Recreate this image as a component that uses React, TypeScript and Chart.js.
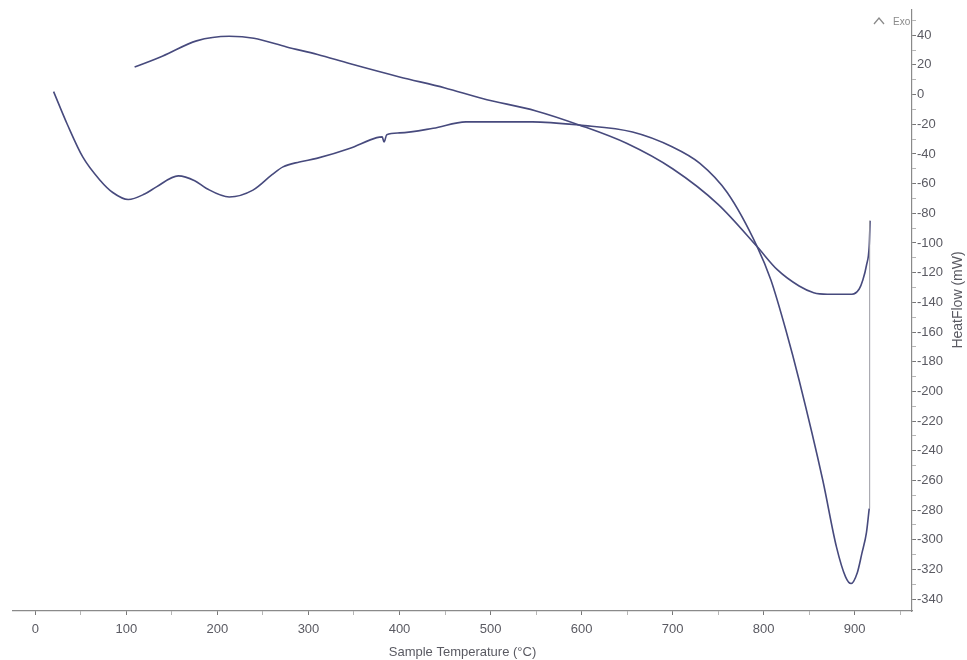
import React, { useEffect, useRef } from 'react';
import Chart from 'chart.js/auto';

// Heating run (°C, mW)
const heatingT = [20, 35, 52, 71, 85, 102, 120, 133, 157, 175, 188, 213, 239, 260, 272, 290, 309, 345, 375, 381, 383, 386, 400, 437, 473, 546, 598, 656, 700, 730, 760, 793, 808, 825, 839, 865, 880, 890, 896, 903, 908, 913, 916];
const heatingHF = [2, -20, -42, -57.7, -66, -70.7, -67, -62.2, -54.8, -58, -63.3, -69, -64.4, -54, -48.7, -45.4, -43, -36.4, -29, -28.5, -32, -27, -25.8, -22.7, -18.4, -18.4, -20.6, -25.2, -35.3, -46.3, -66, -102.6, -125, -160, -192.5, -259.9, -304.8, -325, -329.5, -322, -309, -295, -279];

// Cooling run (°C, mW)
const coolingT = [109, 140, 177, 213, 240, 276, 310, 345, 400, 450, 491, 550, 598, 650, 700, 750, 793, 815, 839, 855, 870, 897, 905, 909, 913, 916, 917];
const coolingHF = [18.6, 26, 36.2, 39.3, 38, 32.1, 27, 20.9, 11.9, 4.5, -2.7, -11, -20.6, -33, -50, -74, -102.6, -118, -129, -133.5, -134.5, -134.5, -131, -125, -115, -102, -85];

// Isothermal jump between runs
const holdT = [916, 916.5];
const holdHF = [-279, -85];

const xMajorTicks = [0, 100, 200, 300, 400, 500, 600, 700, 800, 900];
const xMinorTicks = [50, 150, 250, 350, 450, 550, 650, 750, 850, 950];
const yMajorTicks = [40, 20, 0, -20, -40, -60, -80, -100, -120, -140, -160, -180, -200, -220, -240, -260, -280, -300, -320, -340];
const yMinorTicks = [50, 30, 10, -10, -30, -50, -70, -90, -110, -130, -150, -170, -190, -210, -230, -250, -270, -290, -310, -330];

const xTitle = 'Sample Temperature (°C)';
const yTitle = 'HeatFlow (mW)';
const exoLabel = 'Exo';

const LINE = '#474a7d';
const AXIS = '#8a8a8a';
const TEXT = '#5a5a62';
const TICK_FONT = "'Liberation Sans Narrow', 'Liberation Sans', Arial, sans-serif";
const TITLE_FONT = "'Liberation Sans', Arial, sans-serif";

const toPts = (xs: number[], ys: number[]) => xs.map((x, i) => ({ x, y: ys[i] }));

export default function App() {
  const ref = useRef<HTMLCanvasElement | null>(null);

  useEffect(() => {
    if (!ref.current) return;
    const xMajorSet = new Set(xMajorTicks);
    const yMajorSet = new Set(yMajorTicks);

    const textPlugin = {
      id: 'texts',
      afterDraw(chart: any) {
        const ctx = chart.ctx as CanvasRenderingContext2D;
        const area = chart.chartArea;
        const xs = chart.scales.x;
        const ys = chart.scales.y;
        ctx.save();
        ctx.fillStyle = TEXT;
        ctx.font = `13px ${TITLE_FONT}`;
        ctx.textAlign = 'center';
        ctx.textBaseline = 'middle';
        ctx.fillText(xTitle, (area.left + area.right) / 2, xs.bottom - 8);
        ctx.translate(ys.right - 9, 300);
        ctx.rotate(-Math.PI / 2);
        ctx.font = `14px ${TITLE_FONT}`;
        ctx.fillText(yTitle, 0, 0);
        ctx.restore();

        ctx.save();
        ctx.strokeStyle = '#8a8a8a';
        ctx.lineWidth = 1.3;
        ctx.beginPath();
        ctx.moveTo(area.right - 38, 24);
        ctx.lineTo(area.right - 33, 18);
        ctx.lineTo(area.right - 28, 24);
        ctx.stroke();
        ctx.fillStyle = '#8a8a8a';
        ctx.font = `10px ${TICK_FONT}`;
        ctx.textAlign = 'left';
        ctx.textBaseline = 'middle';
        ctx.fillText(exoLabel, area.right - 19, 22);
        ctx.restore();
      },
    };

    const chart = new Chart(ref.current, {
      type: 'line',
      data: {
        datasets: [
          {
            label: 'Heating',
            data: toPts(heatingT, heatingHF),
            borderColor: LINE,
            borderWidth: 1.6,
            pointRadius: 0,
            cubicInterpolationMode: 'monotone',
            fill: false,
          },
          {
            label: 'Hold',
            data: toPts(holdT, holdHF),
            borderColor: '#9c9ca4',
            borderWidth: 1,
            pointRadius: 0,
            tension: 0,
            fill: false,
          },
          {
            label: 'Cooling',
            data: toPts(coolingT, coolingHF),
            borderColor: LINE,
            borderWidth: 1.6,
            pointRadius: 0,
            cubicInterpolationMode: 'monotone',
            fill: false,
          },
        ],
      },
      options: {
        animation: false,
        responsive: true,
        maintainAspectRatio: false,
        layout: { padding: { left: 13, top: 10, right: 0, bottom: 0 } },
        plugins: { legend: { display: false }, tooltip: { enabled: false } },
        scales: {
          x: {
            type: 'linear',
            position: 'bottom',
            min: -24.6,
            max: 963,
            afterBuildTicks: (scale: any) => {
              scale.ticks = [...xMajorTicks, ...xMinorTicks].sort((a, b) => a - b).map((v) => ({ value: v }));
            },
            afterFit: (scale: any) => {
              scale.height = 49;
            },
            ticks: {
              autoSkip: false,
              maxRotation: 0,
              padding: 7,
              color: TEXT,
              font: { family: TICK_FONT, size: 13 },
              callback: (v: any) => (xMajorSet.has(Number(v)) ? String(v) : ''),
            },
            grid: {
              drawOnChartArea: false,
              drawTicks: true,
              tickLength: 4,
              tickColor: (c: any) => (xMajorSet.has(c.tick?.value) ? '#777' : '#b5b5b5'),
            },
            border: { display: true, color: AXIS, width: 1.2 },
          },
          y: {
            type: 'linear',
            position: 'right',
            min: -348,
            max: 57,
            afterBuildTicks: (scale: any) => {
              scale.ticks = [...yMajorTicks, ...yMinorTicks].sort((a, b) => a - b).map((v) => ({ value: v }));
            },
            afterFit: (scale: any) => {
              scale.width = 55;
            },
            ticks: {
              autoSkip: false,
              padding: 1,
              color: TEXT,
              font: { family: TICK_FONT, size: 13 },
              callback: (v: any) => (yMajorSet.has(Number(v)) ? String(v) : ''),
            },
            grid: {
              drawOnChartArea: false,
              drawTicks: true,
              tickLength: 4,
              tickColor: (c: any) => (yMajorSet.has(c.tick?.value) ? '#777' : '#b5b5b5'),
            },
            border: { display: true, color: AXIS, width: 1.2 },
          },
        },
      },
      plugins: [textPlugin],
    });
    return () => chart.destroy();
  }, []);

  return (
    <div style={{ position: 'fixed', left: 0, top: 0, width: 967, height: 660, background: '#fff' }}>
      <canvas ref={ref} />
    </div>
  );
}
